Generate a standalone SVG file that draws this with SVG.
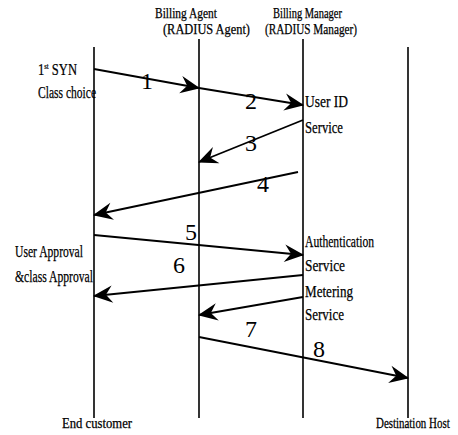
<svg xmlns="http://www.w3.org/2000/svg" width="458" height="435" viewBox="0 0 458 435">
<defs>
<style>
.t{font-family:"Liberation Serif","Times New Roman",serif;font-size:14px;fill:#000;stroke:#000;stroke-width:0.25}
.s{font-family:"Liberation Serif","Times New Roman",serif;font-size:17px;fill:#000;stroke:#000;stroke-width:0.25}
.n{font-family:"Liberation Serif","Times New Roman",serif;font-size:24px;fill:#000}
.life{stroke:#000;stroke-width:1.6;fill:none}
.msg{stroke:#000;stroke-width:1.8;fill:none;marker-end:url(#ah)}
</style>
<marker id="ah" markerUnits="userSpaceOnUse" markerWidth="24" markerHeight="24" viewBox="-20 -10 22 20" refX="0" refY="0" orient="auto">
<path d="M1,0 L-17,-8 L-11,0 L-17,8 Z" fill="#000"/>
</marker>
</defs>
<rect width="458" height="435" fill="#fff"/>
<g id="end-customer">
<line class="life" x1="94" y1="47" x2="94" y2="418"/>
<text class="t" x="62" y="428" textLength="70" lengthAdjust="spacingAndGlyphs">End customer</text>
</g>
<g id="billing-agent">
<line class="life" x1="199" y1="39" x2="199" y2="418"/>
<text class="t" x="155" y="18" textLength="62" lengthAdjust="spacingAndGlyphs">Billing Agent</text>
<text class="t" x="163" y="34" textLength="87" lengthAdjust="spacingAndGlyphs">(RADIUS Agent)</text>
</g>
<g id="billing-manager">
<line class="life" x1="303" y1="39" x2="303" y2="418"/>
<text class="t" x="273" y="18" textLength="69" lengthAdjust="spacingAndGlyphs">Billing Manager</text>
<text class="t" x="265" y="34" textLength="92" lengthAdjust="spacingAndGlyphs">(RADIUS Manager)</text>
</g>
<g id="destination-host">
<line class="life" x1="408" y1="47" x2="408" y2="418"/>
<text class="t" transform="translate(376,428) scale(0.78,1)">Destination Host</text>
</g>
<g id="annotations">
<text class="s" transform="translate(38,75) scale(0.74,1)">1<tspan font-size="9" dy="-6">st</tspan><tspan dy="6"> SYN</tspan></text>
<text class="s" x="38" y="98" textLength="58" lengthAdjust="spacingAndGlyphs">Class choice</text>
<text class="s" x="305" y="107" textLength="43" lengthAdjust="spacingAndGlyphs">User ID</text>
<text class="s" x="305" y="133" textLength="38" lengthAdjust="spacingAndGlyphs">Service</text>
<text class="s" x="305" y="247" textLength="69" lengthAdjust="spacingAndGlyphs">Authentication</text>
<text class="s" x="305" y="271" textLength="40" lengthAdjust="spacingAndGlyphs">Service</text>
<text class="s" x="305" y="297" textLength="48" lengthAdjust="spacingAndGlyphs">Metering</text>
<text class="s" x="305" y="320" textLength="39" lengthAdjust="spacingAndGlyphs">Service</text>
<text class="s" x="15" y="257" textLength="68" lengthAdjust="spacingAndGlyphs">User Approval</text>
<text class="s" x="15" y="282" textLength="78" lengthAdjust="spacingAndGlyphs">&amp;class Approval</text>
</g>
<g id="connectors">
<line class="msg" x1="94" y1="69" x2="199" y2="88"/>
<line class="msg" x1="199" y1="88" x2="303" y2="105"/>
<line class="msg" x1="303" y1="120" x2="199" y2="162"/>
<line class="msg" x1="298" y1="172" x2="94" y2="215"/>
<line class="msg" x1="94" y1="235" x2="303" y2="255"/>
<line class="msg" x1="303" y1="275" x2="94" y2="296"/>
<line class="msg" x1="303" y1="297" x2="199" y2="315"/>
<line class="msg" x1="199" y1="337" x2="408" y2="378"/>
<text class="n" x="141" y="89">1</text>
<text class="n" x="245" y="109">2</text>
<text class="n" x="245" y="151">3</text>
<text class="n" x="257" y="192">4</text>
<text class="n" x="185" y="240">5</text>
<text class="n" x="173" y="273">6</text>
<text class="n" x="245" y="337">7</text>
<text class="n" x="313" y="357">8</text>
</g>
</svg>
